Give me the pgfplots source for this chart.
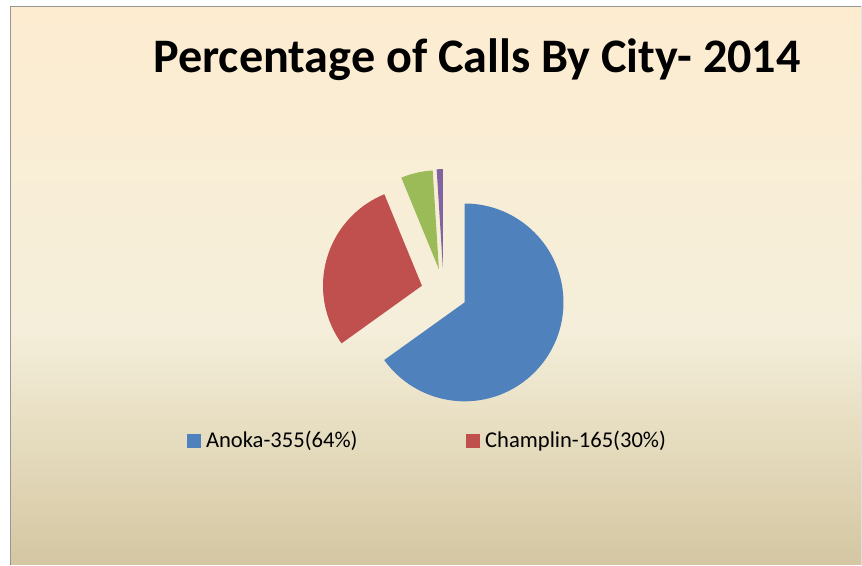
\documentclass[border=0pt]{standalone}
\usepackage{pgfplots}
\pgfplotsset{compat=1.18}
\usepackage{pgfplotstable}
\usepackage{fontspec}
\setmainfont{Carlito}
\definecolor{sBlue}{RGB}{79,129,189}
\definecolor{sRed}{RGB}{192,80,77}
\definecolor{sGreen}{RGB}{155,187,89}
\definecolor{sPurple}{RGB}{128,100,162}
\definecolor{bgTop}{RGB}{253,236,208}
\definecolor{bgA}{RGB}{248,238,215}
\definecolor{bgB}{RGB}{244,238,218}
\definecolor{bgC}{RGB}{232,223,195}
\definecolor{bgBot}{RGB}{212,198,161}
\pgfdeclareverticalshading{parch}{100bp}{color(0bp)=(bgBot); color(25bp)=(bgBot); color(38bp)=(bgC); color(46bp)=(bgB); color(57.7bp)=(bgA); color(75bp)=(bgTop); color(100bp)=(bgTop)}

% share of each slice (percent of calls), explode offset (px)
\pgfplotstableread{
city     share  dx     dy
Anoka    65.1   0      0
Champlin 28.7   -42.7  16.7
Other1   5.2    -25.7  33.3
Other2   1.0    -21.7  34.4
}\piedata

\newcommand\getval[3]{\pgfplotstablegetelem{#1}{#2}\of\piedata\pgfmathsetmacro#3{\pgfplotsretval}}

\begin{document}
\begin{tikzpicture}
\getval{0}{share}\sA \getval{1}{share}\sB \getval{2}{share}\sC \getval{3}{share}\sD
\getval{0}{dx}\xA \getval{1}{dx}\xB \getval{2}{dx}\xC \getval{3}{dx}\xD
\getval{0}{dy}\yA \getval{1}{dy}\yB \getval{2}{dy}\yC \getval{3}{dy}\yD
\pgfmathsetmacro\tot{\sA+\sB+\sC+\sD}
\pgfmathsetmacro\aA{90}
\pgfmathsetmacro\aB{\aA-360*(\sA/\tot)}
\pgfmathsetmacro\aC{\aB-360*(\sB/\tot)}
\pgfmathsetmacro\aD{\aC-360*(\sC/\tot)}
\pgfmathsetmacro\aE{\aD-360*(\sD/\tot)}
\def\cx{465}\def\cy{262.3}\def\R{49.5pt}
\begin{axis}[
  scale only axis, width=431pt, height=282.5pt,
  xmin=0, xmax=862, ymin=0, ymax=565,
  hide axis, clip=false,
  legend columns=2,
  legend image code/.code={\fill[#1] (0pt,-3.25pt) rectangle (6.5pt,3.25pt);},
  legend style={draw=none, fill=none, inner sep=0pt, at={(axis cs:187,123.5)}, anchor=west,
    font=\fontsize{11.3pt}{13pt}\selectfont,
    nodes={inner sep=0pt},
    /tikz/column 1/.style={column sep=2.5pt},
    /tikz/column 2/.style={column sep=54.5pt},
    /tikz/column 3/.style={column sep=2.5pt}},
]
\path (axis cs:0,0) rectangle (axis cs:862,565);
\begin{scope}
\clip (axis cs:0,0) rectangle (axis cs:862,565);
\fill[shading=parch] (axis cs:10.5,-2) rectangle (axis cs:866,558.5);
\end{scope}
\draw[color={rgb,255:red,150;green,150;blue,150}, line width=0.8pt] (axis cs:10.5,0) -- (axis cs:10.5,558.5) -- (axis cs:862,558.5);
\node[anchor=base, font=\bfseries\fontsize{24.1pt}{29pt}\selectfont] at (axis cs:477.5,492) {Percentage of Calls By City- 2014};
\fill[sBlue] (axis cs:{\cx+\xA},{\cy+\yA}) -- ++(\aA:\R) arc[start angle=\aA, end angle=\aB, radius=\R] -- cycle;
\fill[sRed] (axis cs:{\cx+\xB},{\cy+\yB}) -- ++(\aB:\R) arc[start angle=\aB, end angle=\aC, radius=\R] -- cycle;
\fill[sGreen] (axis cs:{\cx+\xC},{\cy+\yC}) -- ++(\aC:\R) arc[start angle=\aC, end angle=\aD, radius=\R] -- cycle;
\fill[sPurple] (axis cs:{\cx+\xD},{\cy+\yD}) -- ++(\aD:\R) arc[start angle=\aD, end angle=\aE, radius=\R] -- cycle;
\addlegendimage{sBlue}
\addlegendentry{Anoka-355(64\%)}
\addlegendimage{sRed}
\addlegendentry{Champlin-165(30\%)}
\end{axis}
\end{tikzpicture}
\end{document}
